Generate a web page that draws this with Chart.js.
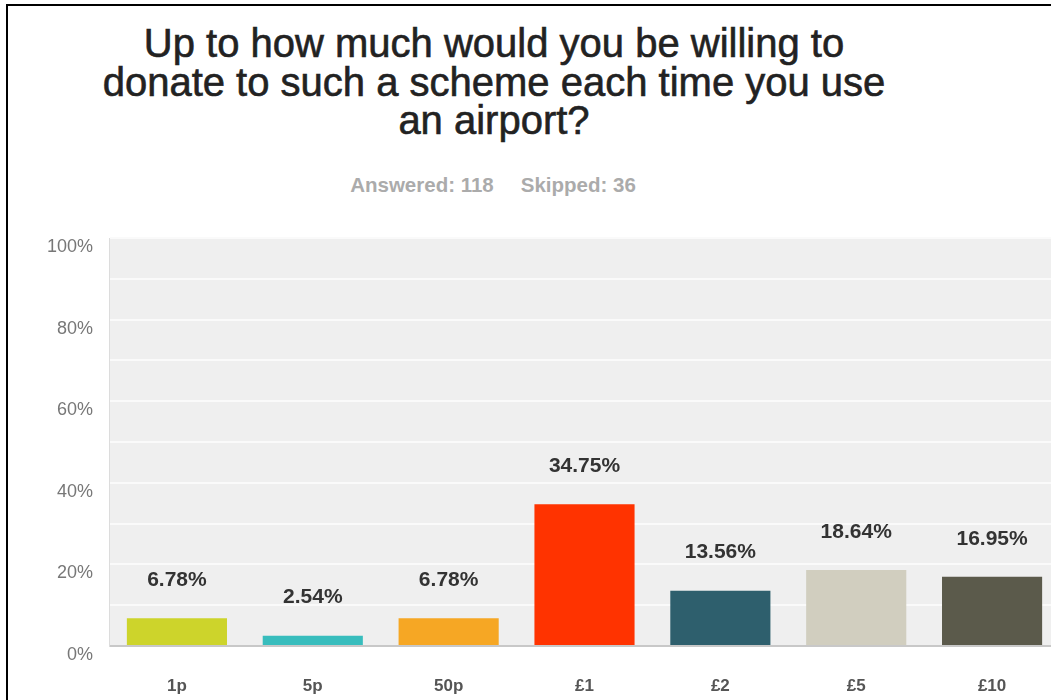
<!DOCTYPE html>
<html>
<head>
<meta charset="utf-8">
<script src="https://cdn.jsdelivr.net/npm/chart.js@4.4.1/dist/chart.umd.min.js"></script>
<style>
  html, body { margin: 0; padding: 0; background: #ffffff; overflow: hidden; width: 1051px; height: 700px; }
  #frame { position: absolute; left: 6px; top: 4px; width: 2000px; height: 2000px;
           border-left: 2px solid #000; border-top: 2px solid #000; }
  #title { position: absolute; left: 0; top: 24px; width: 988px; text-align: center;
           font-family: "Liberation Sans", Arial, sans-serif; font-size: 40px; line-height: 38.5px;
           color: #222222; -webkit-text-stroke: 0.6px #222222; }
  #sub { position: absolute; left: 0; top: 173px; width: 986px; text-align: center;
         font-family: "Liberation Sans", Arial, sans-serif; font-weight: bold; font-size: 20.5px;
         color: #ababab; }
  #sub span + span { margin-left: 27px; }
  #chart { position: absolute; left: 0; top: 0; }
</style>
</head>
<body>
<div id="frame"></div>
<div id="title">Up to how much would you be willing to<br>donate to such a scheme each time you use<br>an airport?</div>
<div id="sub"><span>Answered: 118</span><span>Skipped: 36</span></div>
<canvas id="chart" width="1062" height="700"></canvas>
<script>
// Answer options and share of respondents (%)
const categories = ['1p', '5p', '50p', '£1', '£2', '£5', '£10'];
const percentages = [6.78, 2.54, 6.78, 34.75, 13.56, 18.64, 16.95];
const barColors = ['#cdd42b', '#38bdbd', '#f6a724', '#ff3300', '#2e5f6d', '#d1cebf', '#5b5a4b'];
const yTickValues = [0, 20, 40, 60, 80, 100];

// Light grey plotting area behind the grid
const plotBackground = {
  id: 'plotBackground',
  beforeDraw(chart) {
    const { ctx, chartArea: a } = chart;
    ctx.save();
    ctx.fillStyle = '#efefef';
    ctx.fillRect(a.left, a.top, a.right - a.left, a.bottom - a.top);
    ctx.restore();
  }
};

// Percentage written above each bar
const valueLabels = {
  id: 'valueLabels',
  afterDatasetsDraw(chart) {
    const { ctx } = chart;
    const meta = chart.getDatasetMeta(0);
    const data = chart.data.datasets[0].data;
    ctx.save();
    ctx.font = 'bold 21px "Liberation Sans", Arial, sans-serif';
    ctx.fillStyle = '#333333';
    ctx.textAlign = 'center';
    ctx.textBaseline = 'middle';
    meta.data.forEach((bar, i) => {
      ctx.fillText(data[i].toFixed(2) + '%', bar.x, bar.y - 38);
    });
    ctx.restore();
  }
};

new Chart(document.getElementById('chart'), {
  type: 'bar',
  data: {
    labels: categories,
    datasets: [{
      data: percentages,
      backgroundColor: barColors,
      borderWidth: 0,
      barPercentage: 0.737,
      categoryPercentage: 1.0
    }]
  },
  options: {
    responsive: false,
    animation: false,
    devicePixelRatio: 1,
    layout: { padding: { top: 238, right: 2, left: 0, bottom: 0 } },
    plugins: { legend: { display: false }, tooltip: { enabled: false } },
    scales: {
      x: {
        grid: { display: false, drawTicks: false },
        border: { display: true, color: '#c8c8c8', width: 1 },
        ticks: {
          padding: 30,
          color: '#555555',
          font: { family: '"Liberation Sans", Arial, sans-serif', size: 17, weight: 'bold' }
        },
        afterFit(scale) { scale.height = 54; }
      },
      y: {
        min: 0,
        max: 100,
        afterFit(scale) { scale.width = 109; },
        grid: {
          drawTicks: false,
          lineWidth: 2,
          color: (c) => (c.tick && c.tick.value === 0 ? '#c8c8c8' : '#fafafa')
        },
        border: { display: true, color: '#dcdcdc', width: 1 },
        ticks: {
          stepSize: 10,
          padding: 16,
          labelOffset: 9,
          color: '#777777',
          font: { family: '"Liberation Sans", Arial, sans-serif', size: 18 },
          callback: (v) => (yTickValues.includes(v) ? v + '%' : '')
        }
      }
    }
  },
  plugins: [plotBackground, valueLabels]
});
</script>
</body>
</html>
